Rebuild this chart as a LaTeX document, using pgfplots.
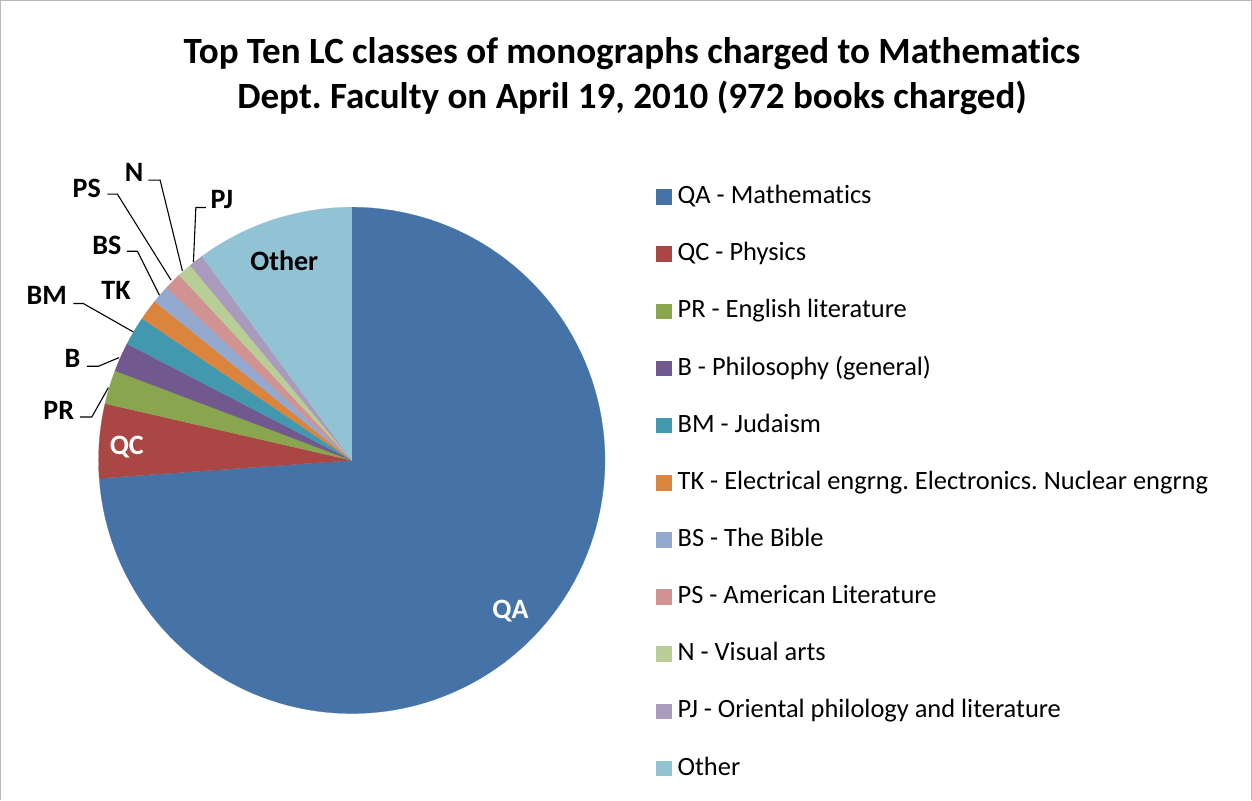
\documentclass[border=0pt]{standalone}
\usepackage{fontspec}
\setmainfont{Carlito}[Ligatures=NoCommon]
\usepackage{pgfplots}
\usepackage{pgfplotstable}
\pgfplotsset{compat=1.18}
\frenchspacing

\definecolor{cQA}{HTML}{4572A7}
\definecolor{cQC}{HTML}{AA4643}
\definecolor{cPR}{HTML}{89A54E}
\definecolor{cB}{HTML}{71588F}
\definecolor{cBM}{HTML}{4198AF}
\definecolor{cTK}{HTML}{DB843D}
\definecolor{cBS}{HTML}{93A9CF}
\definecolor{cPS}{HTML}{D19392}
\definecolor{cN}{HTML}{B9CD96}
\definecolor{cPJ}{HTML}{A99BBD}
\definecolor{cOther}{HTML}{91C3D5}

% books charged per LC class (972 in total)
\pgfplotstableread{
code count
QA 718
QC 46
PR 21
B 18
BM 18
TK 13
BS 11
PS 11
N 9
PJ 9
Other 98
}\datatable

\newcommand\computeangles{%
  \pgfplotstablegetrowsof{\datatable}\edef\nrows{\pgfplotsretval}%
  \gdef\total{0}%
  \pgfmathtruncatemacro\lastrow{\nrows-1}%
  \foreach \i in {0,...,\lastrow}{%
    \pgfplotstablegetelem{\i}{count}\of\datatable
    \pgfmathsetmacro\tmpsum{\total+\pgfplotsretval}%
    \xdef\total{\tmpsum}%
  }%
  \gdef\cum{0}%
  \foreach \i in {0,...,\lastrow}{%
    \pgfplotstablegetelem{\i}{count}\of\datatable
    \pgfmathsetmacro\st{90-\cum/\total*360}%
    \pgfmathsetmacro\newcum{\cum+\pgfplotsretval}%
    \pgfmathsetmacro\en{90-\newcum/\total*360}%
    \expandafter\xdef\csname st\i\endcsname{\st}%
    \expandafter\xdef\csname en\i\endcsname{\en}%
    \xdef\cum{\newcum}%
  }%
}

\newcommand\slice[2]{%
  \edef\tmpplot{\noexpand\addplot[fill=#2, draw=#2, line width=0.2pt,
     domain=\csname en#1\endcsname:\csname st#1\endcsname, samples=120, variable=\noexpand\t]}%
  \tmpplot ({351.5+253*cos(\t)}, {460-253*sin(\t)}) -- (axis cs:351.5,460) -- cycle;
}

\begin{document}
\computeangles
\begin{tikzpicture}
\begin{axis}[
  scale only axis, width=1252bp, height=799bp,
  xmin=0, xmax=1252, ymin=0, ymax=799, y dir=reverse,
  hide axis, clip=false,
  legend image code/.code={\fill[#1] (0bp,-7.3bp) rectangle (15bp,7.3bp);},
  legend cell align=left,
  legend style={at={(axis cs:655,183.3)}, anchor=north west, draw=none, fill=none,
    inner sep=0pt, column sep=6.7bp, row sep=31.1bp,
    font=\fontsize{26.4bp}{30bp}\selectfont,
    nodes={inner sep=0pt, text height=20bp, text depth=6bp}},
]
\slice{0}{cQA}
\slice{1}{cQC}
\slice{2}{cPR}
\slice{3}{cB}
\slice{4}{cBM}
\slice{5}{cTK}
\slice{6}{cBS}
\slice{7}{cPS}
\slice{8}{cN}
\slice{9}{cPJ}
\slice{10}{cOther}
\legend{QA - Mathematics, QC - Physics, PR - English literature, B - Philosophy (general), BM - Judaism, TK - Electrical engrng. Electronics. Nuclear engrng, BS - The Bible, PS - American Literature, N - Visual arts, PJ - Oriental philology and literature, Other}

% frame
\draw[gray!55, line width=1pt] (axis cs:0.5,799) -- (axis cs:0.5,0.5) -- (axis cs:1250.5,0.5) -- (axis cs:1250.5,799);

% title
\node[anchor=base, font=\bfseries\fontsize{37bp}{44bp}\selectfont] at (axis cs:631.5,63) {Top Ten LC classes of monographs charged to Mathematics};
\node[anchor=base, font=\bfseries\fontsize{37bp}{44bp}\selectfont] at (axis cs:631.5,108) {Dept. Faculty on April 19, 2010 (972 books charged)};

% labels inside
\node[font=\bfseries\fontsize{28bp}{32bp}\selectfont, white] at (axis cs:510,611) {QA};
\node[font=\bfseries\fontsize{28bp}{32bp}\selectfont, white] at (axis cs:126.7,447) {QC};
\node[font=\bfseries\fontsize{28bp}{32bp}\selectfont, black] at (axis cs:284,261) {Other};

% outside labels
\begin{scope}[every node/.style={font=\bfseries\fontsize{28bp}{32bp}\selectfont, black}]
\node at (axis cs:221.7,199) {PJ};
\node at (axis cs:134,172.5) {N};
\node at (axis cs:86.7,188.5) {PS};
\node at (axis cs:106.7,245) {BS};
\node at (axis cs:116,290) {TK};
\node at (axis cs:46.7,295) {BM};
\node at (axis cs:72.5,358) {B};
\node at (axis cs:58.7,410) {PR};
\end{scope}
\begin{scope}[line width=1.1pt, black]
\draw (axis cs:193.3,261.7) -- (axis cs:195.7,207.3) -- (axis cs:205.7,207.3);
\draw (axis cs:148.3,180) -- (axis cs:160,180) -- (axis cs:182.3,270.7);
\draw (axis cs:107.3,194) -- (axis cs:117.3,194) -- (axis cs:171,280);
\draw (axis cs:126.7,251) -- (axis cs:137.3,251) -- (axis cs:159.3,295);
\draw (axis cs:73.3,303.3) -- (axis cs:83.3,303.3) -- (axis cs:133.3,331.7);
\draw (axis cs:86.7,366) -- (axis cs:98.3,366) -- (axis cs:119,357.3);
\draw (axis cs:80,416.7) -- (axis cs:91.7,416.7) -- (axis cs:108.3,387.3);
\end{scope}
\end{axis}
\end{tikzpicture}
\end{document}
